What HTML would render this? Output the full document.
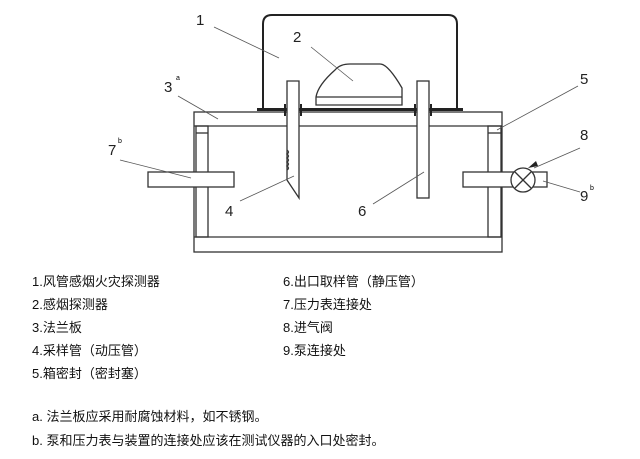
<!DOCTYPE html>
<html><head><meta charset="utf-8"><style>
body{margin:0;background:#fff;}
svg{display:block}
text{font-family:"Liberation Sans","Noto Sans CJK SC",sans-serif;}
.t{font-family:"Liberation Mono","Noto Sans CJK SC",monospace;font-size:13px;fill:#111}
.n{font-size:15px;fill:#222}
</style></head><body>
<svg width="640" height="459" viewBox="0 0 640 459">
<g fill="none" stroke="#333" stroke-width="1.3">
<path d="M263 108 V24 Q263 15 272 15 H448 Q457 15 457 24 V108" stroke-width="2" stroke="#222"/>
<rect x="257" y="108" width="206" height="3" fill="#222" stroke="none"/>
<rect x="194" y="112" width="308" height="140" fill="#fff"/>
<line x1="194" y1="126" x2="502" y2="126"/>
<line x1="194" y1="237" x2="502" y2="237"/>
<rect x="196" y="126" width="12" height="111"/>
<rect x="488" y="126" width="13" height="111"/>
<line x1="196" y1="133" x2="208" y2="133"/>
<line x1="488" y1="133" x2="501" y2="133"/>
<rect x="148" y="172" width="86" height="15" fill="#fff"/>
<rect x="463" y="172" width="84" height="15" fill="#fff"/>
<circle cx="523" cy="180" r="12" fill="#fff"/>
<line x1="515" y1="172" x2="531" y2="188"/><line x1="531" y1="172" x2="515" y2="188"/>
<path d="M316 105 V97 Q318 85 335 70 Q340 64 350 64 H380 Q388 64 402 88 V105 Z" fill="#fff"/>
<line x1="316" y1="97" x2="402" y2="97"/>
<path d="M287 81 H299 V198 L287 180 Z" fill="#fff"/>
<path d="M287 150 q3 2 0 4 q3 2 0 4 q3 2 0 4 q3 2 0 4 q3 2 0 4"/>
<rect x="417" y="81" width="12" height="117" fill="#fff"/>
<rect x="284" y="104" width="2" height="12" fill="#222" stroke="none"/>
<rect x="300" y="104" width="2" height="12" fill="#222" stroke="none"/>
<rect x="414" y="104" width="2" height="12" fill="#222" stroke="none"/>
<rect x="430" y="104" width="2" height="12" fill="#222" stroke="none"/>
</g>
<g stroke="#555" stroke-width="0.8">
<line x1="214" y1="27" x2="279" y2="58"/>
<line x1="311" y1="47" x2="353" y2="81"/>
<line x1="178" y1="96" x2="218" y2="119"/>
<line x1="240" y1="201" x2="294" y2="176"/>
<line x1="373" y1="204" x2="424" y2="172"/>
<line x1="578" y1="86" x2="497" y2="130"/>
<line x1="120" y1="160" x2="191" y2="178"/>
<line x1="580" y1="148" x2="534" y2="168"/>
<line x1="580" y1="192" x2="543" y2="181"/>
</g>
<path d="M528 168 L536 161 L538 166 Z" fill="#222"/>
<text class="n" x="196" y="25">1</text>
<text class="n" x="293" y="42">2</text>
<text class="n" x="164" y="92">3</text><text x="176" y="80" font-size="7">a</text>
<text class="n" x="225" y="216">4</text>
<text class="n" x="580" y="84">5</text>
<text class="n" x="358" y="216">6</text>
<text class="n" x="108" y="155">7</text><text x="118" y="143" font-size="7">b</text>
<text class="n" x="580" y="140">8</text>
<text class="n" x="580" y="201">9</text><text x="590" y="190" font-size="7">b</text>
<g class="t">
<text x="32" y="286">1.风管感烟火灾探测器</text>
<text x="32" y="309">2.感烟探测器</text>
<text x="32" y="332">3.法兰板</text>
<text x="32" y="355">4.采样管（动压管）</text>
<text x="32" y="378">5.箱密封（密封塞）</text>
<text x="283" y="286">6.出口取样管（静压管）</text>
<text x="283" y="309">7.压力表连接处</text>
<text x="283" y="332">8.进气阀</text>
<text x="283" y="355">9.泵连接处</text>
<text x="32" y="421">a. 法兰板应采用耐腐蚀材料，如不锈钢。</text>
<text x="32" y="445">b. 泵和压力表与装置的连接处应该在测试仪器的入口处密封。</text>
</g>
</svg>
</body></html>
